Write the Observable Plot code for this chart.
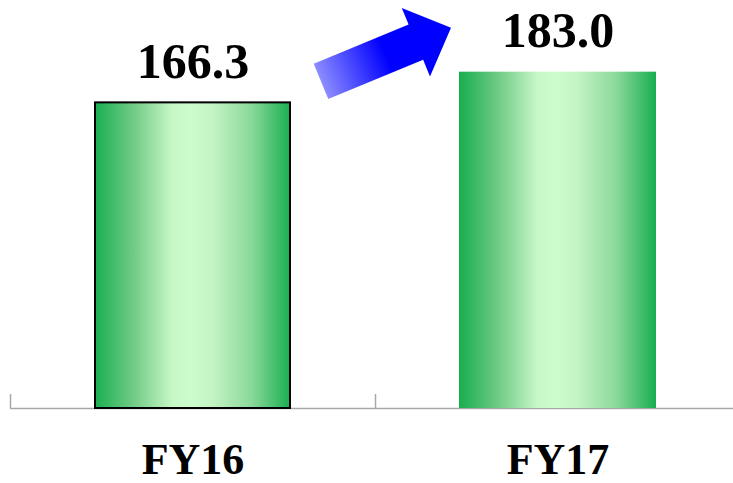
<!DOCTYPE html>
<html>
<head>
<meta charset="utf-8">
<script src="https://cdn.jsdelivr.net/npm/d3@7"></script>
<script src="https://cdn.jsdelivr.net/npm/@observablehq/plot@0.6"></script>
<style>
  html, body { margin: 0; padding: 0; background: #fff; }
  #chart svg { display: block; }
</style>
</head>
<body>
<div id="chart"></div>
<script>
// Fiscal years and their totals
const categories = ["FY16", "FY17"];
const values = [166.3, 183.0];
const valueLabels = ["166.3", "183.0"];

const data = categories.map((c, i) => ({ category: c, index: i, value: values[i], label: valueLabels[i] }));

const serif = "'Liberation Serif', 'Times New Roman', Times, serif";
const barInset = 84;

// Gradient definitions for the bars and the growth arrow
const defsMark = () => {
  const g = d3.create("svg:g");
  const defs = g.append("defs");
  const bg = defs.append("linearGradient").attr("id", "barFill")
    .attr("x1", 0).attr("x2", 1).attr("y1", 0).attr("y2", 0);
  [[0, "#17ae4f"], [0.2, "#70cb86"], [0.4, "#c8f8c8"], [0.5, "#ccfccc"], [0.6, "#c4f4c4"], [0.8, "#8ad99a"], [1, "#17ae4f"]]
    .forEach(([o, c]) => bg.append("stop").attr("offset", o).attr("stop-color", c));
  const ag = defs.append("linearGradient").attr("id", "arrowFill")
    .attr("x1", 0).attr("x2", 1).attr("y1", 0).attr("y2", 0);
  [[0, "#8c8cff"], [0.5, "#0000ff"], [1, "#0000ff"]]
    .forEach(([o, c]) => ag.append("stop").attr("offset", o).attr("stop-color", c));
  return g.node();
};

// Block arrow rising from the first bar's label towards the second
const arrowMark = (index, { x, y }) => {
  const tailX = x(1) - barInset + 30, tailY = y(values[0]) - 21;
  const tipX = x(1) + barInset - 8, tipY = y(values[1]) - 44;
  const L = Math.hypot(tipX - tailX, tipY - tailY);
  const theta = Math.atan2(tipY - tailY, tipX - tailX) * 180 / Math.PI;
  const head = 38, headHalf = 37, shaftHalf = 19;
  const pts = [
    [0, -shaftHalf], [L - head, -shaftHalf], [L - head, -headHalf], [L, 0],
    [L - head, headHalf], [L - head, shaftHalf], [0, shaftHalf]
  ];
  const g = d3.create("svg:g")
    .attr("transform", `translate(${tailX},${tailY}) rotate(${theta})`);
  g.append("polygon")
    .attr("points", pts.map(p => p.join(",")).join(" "))
    .attr("fill", "url(#arrowFill)");
  return g.node();
};

const chart = Plot.plot({
  width: 733,
  height: 483,
  marginTop: 0,
  marginBottom: 75,
  marginLeft: 10,
  marginRight: -7,
  x: { domain: [0, categories.length], axis: null },
  y: { domain: [0, 222], axis: null },
  marks: [
    defsMark,
    Plot.ruleY([0], { stroke: "#a8a8a8", strokeWidth: 1.5 }),
    Plot.ruleX(d3.range(categories.length + 1), { y1: 0, y2: 0, insetTop: -14, stroke: "#a8a8a8", strokeWidth: 1.5 }),
    Plot.rectY(data, {
      x1: "index", x2: d => d.index + 1, y: "value",
      insetLeft: barInset, insetRight: barInset,
      fill: "#010203"
    }),
    Plot.rectY(data, {
      filter: (d, i) => i === 0,
      x1: "index", x2: d => d.index + 1, y: "value",
      insetLeft: barInset + 1, insetRight: barInset + 1,
      fill: "none", stroke: "#000", strokeWidth: 2
    }),
    Plot.text(data, {
      x: d => d.index + 0.5, y: "value", text: "label",
      dy: -41, fontSize: 50, fontWeight: "bold", fontFamily: serif, fill: "#000"
    }),
    Plot.text(data, {
      x: d => d.index + 0.5, y: () => 0, text: "category",
      dy: 51, fontSize: 44, fontWeight: "bold", fontFamily: serif, fill: "#000"
    }),
    arrowMark
  ]
});

// Apply the bar gradient to the bar fill
d3.select(chart).selectAll("[fill='#010203']").attr("fill", "url(#barFill)");

document.getElementById("chart").appendChild(chart);
</script>
</body>
</html>
